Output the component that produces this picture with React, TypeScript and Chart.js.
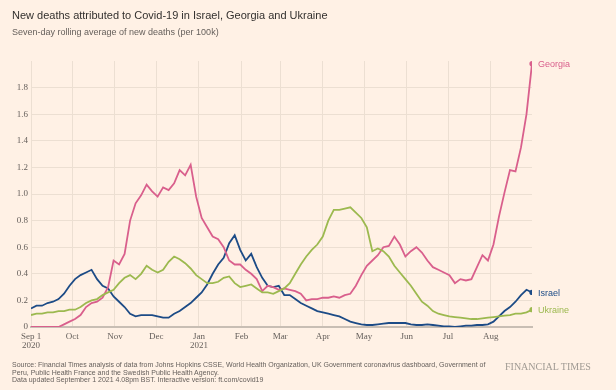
import React, { useEffect, useRef } from "react";
import { Chart, registerables } from "chart.js";

Chart.register(...registerables);

// Day offsets from Sep 1 2020 (every 4 days)
const days = [
  0, 4, 8, 12, 16, 20, 24, 28, 32, 36,
  40, 44, 48, 52, 56, 60, 64, 68, 72, 76,
  80, 84, 88, 92, 96, 100, 104, 108, 112, 116,
  120, 124, 128, 132, 136, 140, 144, 148, 152, 156,
  160, 164, 168, 172, 176, 180, 184, 188, 192, 196,
  200, 204, 208, 212, 216, 220, 224, 228, 232, 236,
  240, 244, 248, 252, 256, 260, 264, 268, 272, 276,
  280, 284, 288, 292, 296, 300, 304, 308, 312, 316,
  320, 324, 328, 332, 336, 340, 344, 348, 352, 356,
  360, 364,
];

const israel = [
  0.14, 0.16, 0.16, 0.18, 0.19, 0.21, 0.25, 0.31, 0.36, 0.39,
  0.41, 0.43, 0.36, 0.31, 0.29, 0.23, 0.19, 0.15, 0.10, 0.08,
  0.09, 0.09, 0.09, 0.08, 0.07, 0.07, 0.10, 0.12, 0.15, 0.18,
  0.22, 0.26, 0.32, 0.40, 0.47, 0.52, 0.63, 0.69, 0.58, 0.50,
  0.55, 0.45, 0.37, 0.31, 0.30, 0.31, 0.24, 0.24, 0.21, 0.18,
  0.16, 0.14, 0.12, 0.11, 0.10, 0.09, 0.08, 0.06, 0.04, 0.03,
  0.02, 0.015, 0.015, 0.02, 0.025, 0.03, 0.03, 0.03, 0.03, 0.02,
  0.015, 0.015, 0.02, 0.015, 0.01, 0.005, 0.005, 0.0, 0.005, 0.01,
  0.01, 0.015, 0.015, 0.02, 0.04, 0.08, 0.12, 0.15, 0.19, 0.24,
  0.28, 0.26,
];

const ukraine = [
  0.09, 0.10, 0.10, 0.11, 0.11, 0.12, 0.12, 0.13, 0.13, 0.15,
  0.18, 0.20, 0.21, 0.24, 0.26, 0.28, 0.33, 0.37, 0.39, 0.36,
  0.40, 0.46, 0.43, 0.41, 0.43, 0.49, 0.53, 0.51, 0.48, 0.44,
  0.39, 0.36, 0.33, 0.33, 0.34, 0.37, 0.38, 0.33, 0.30, 0.31,
  0.32, 0.29, 0.26, 0.26, 0.25, 0.27, 0.29, 0.33, 0.40, 0.47,
  0.53, 0.58, 0.62, 0.68, 0.80, 0.88, 0.88, 0.89, 0.90, 0.86,
  0.82, 0.75, 0.57, 0.59, 0.57, 0.53, 0.46, 0.41, 0.36, 0.31,
  0.25, 0.19, 0.16, 0.12, 0.10, 0.09, 0.08, 0.075, 0.07, 0.065,
  0.06, 0.06, 0.065, 0.07, 0.075, 0.08, 0.085, 0.09, 0.10, 0.10,
  0.11, 0.13,
];

const georgia = [
  0, 0, 0, 0, 0, 0, 0.02, 0.04, 0.06, 0.09,
  0.15, 0.18, 0.19, 0.22, 0.30, 0.50, 0.47, 0.55, 0.80, 0.93,
  0.99, 1.07, 1.02, 0.98, 1.05, 1.03, 1.08, 1.18, 1.14, 1.22,
  0.98, 0.82, 0.75, 0.68, 0.66, 0.60, 0.50, 0.47, 0.47, 0.43,
  0.40, 0.36, 0.27, 0.31, 0.30, 0.28, 0.29, 0.28, 0.27, 0.25,
  0.20, 0.21, 0.21, 0.22, 0.22, 0.23, 0.22, 0.24, 0.25, 0.31,
  0.39, 0.46, 0.50, 0.54, 0.60, 0.61, 0.68, 0.62, 0.53, 0.57,
  0.60, 0.56, 0.50, 0.45, 0.43, 0.41, 0.39, 0.33, 0.36, 0.35,
  0.36, 0.45, 0.54, 0.50, 0.62, 0.83, 1.01, 1.18, 1.17, 1.35,
  1.60, 1.98,
];

const monthTickDays = [0, 30, 61, 91, 122, 153, 181, 212, 242, 273, 303, 334];
const monthTickLabels: (string | string[])[] = [
  ["Sep 1", "2020"], "Oct", "Nov", "Dec", ["Jan", "2021"], "Feb", "Mar", "Apr", "May", "Jun", "Jul", "Aug",
];

const seriesNames = ["Ukraine", "Georgia", "Israel"];
const seriesColors = ["#9cb94f", "#d95f8c", "#1c4b86"];

const BG = "#fff1e5";

const endLabels = {
  id: "endLabels",
  afterDatasetsDraw(chart: any) {
    const ctx = chart.ctx;
    ctx.save();
    ctx.font = "9px 'Liberation Sans', Arial, sans-serif";
    ctx.textBaseline = "middle";
    ctx.textAlign = "left";
    chart.data.datasets.forEach((ds: any, i: number) => {
      const meta = chart.getDatasetMeta(i);
      const pt = meta.data[meta.data.length - 1];
      if (!pt) return;
      ctx.fillStyle = ds.borderColor;
      ctx.fillText(ds.label, pt.x + 6, pt.y + 1);
    });
    ctx.restore();
  },
};

export default function App() {
  const ref = useRef<HTMLCanvasElement | null>(null);

  useEffect(() => {
    document.body.style.margin = "0";
    document.body.style.background = BG;
    const canvas = ref.current;
    if (!canvas) return;
    const seriesData = [ukraine, georgia, israel];
    const chart = new Chart(canvas, {
      type: "line",
      data: {
        datasets: seriesNames.map((name, i) => ({
          label: name,
          data: days.map((d, j) => ({ x: d, y: seriesData[i][j] })),
          borderColor: seriesColors[i],
          backgroundColor: seriesColors[i],
          borderWidth: 1.8,
          tension: 0,
          pointRadius: (c: any) => (c.dataIndex === days.length - 1 ? 2.6 : 0),
          pointHoverRadius: 0,
          pointBorderWidth: 0,
        })),
      },
      options: {
        responsive: false,
        animation: false,
        events: [],
        layout: { padding: { top: 61, right: 84, bottom: 0, left: 0 } },
        plugins: {
          legend: { display: false },
          tooltip: { enabled: false },
          title: { display: false },
        },
        scales: {
          x: {
            type: "linear",
            min: 0,
            max: 364,
            afterFit: (s: any) => {
              s.height = 63;
            },
            afterBuildTicks: (s: any) => {
              s.ticks = monthTickDays.map((v) => ({ value: v }));
            },
            ticks: {
              autoSkip: false,
              maxRotation: 0,
              padding: 5,
              color: "#66605c",
              font: { family: "'Liberation Serif', Georgia, serif", size: 9, lineHeight: 1.0 },
              callback: (v: any) => {
                const idx = monthTickDays.indexOf(Number(v));
                return idx >= 0 ? monthTickLabels[idx] : "";
              },
            },
            grid: { color: "#ecdfd2", lineWidth: 1, drawTicks: false },
            border: { display: true, color: "#c8beb4", width: 2 },
          },
          y: {
            min: 0,
            max: 2.0,
            afterFit: (s: any) => {
              s.width = 31;
            },
            ticks: {
              stepSize: 0.2,
              padding: 3,
              color: "#66605c",
              font: { family: "'Liberation Serif', Georgia, serif", size: 9 },
              callback: (v: any) => {
                const n = Number(v);
                if (n === 0) return "0";
                if (n > 1.95) return "";
                return n.toFixed(1);
              },
            },
            grid: {
              drawTicks: false,
              lineWidth: 1,
              color: (c: any) => (c.tick && c.tick.value > 1.95 ? "rgba(0,0,0,0)" : "#ecdfd2"),
            },
            border: { display: false },
          },
        },
      },
      plugins: [endLabels],
    } as any);
    return () => chart.destroy();
  }, []);

  const sans = "'Liberation Sans', Arial, sans-serif";
  return (
    <div style={{ position: "fixed", left: 0, top: 0, width: 616, height: 390, background: BG, overflow: "hidden" }}>
      <canvas ref={ref} width={616} height={390} style={{ position: "absolute", left: 0, top: 0, width: 616, height: 390 }} />
      <div style={{ position: "absolute", left: 12, top: 8, font: `11px ${sans}`, lineHeight: "14px", color: "#33302e", whiteSpace: "nowrap" }}>
        New deaths attributed to Covid-19 in Israel, Georgia and Ukraine
      </div>
      <div style={{ position: "absolute", left: 12, top: 27, font: `9px ${sans}`, lineHeight: "11px", color: "#66605c", whiteSpace: "nowrap" }}>
        Seven-day rolling average of new deaths (per 100k)
      </div>
      <div style={{ position: "absolute", left: 12, top: 361, font: `7px ${sans}`, lineHeight: "7.5px", color: "#66605c", whiteSpace: "nowrap" }}>
        Source: Financial Times analysis of data from Johns Hopkins CSSE, World Health Organization, UK Government coronavirus dashboard, Government of
        <br />
        Peru, Public Health France and the Swedish Public Health Agency.
        <br />
        Data updated September 1 2021 4.08pm BST. Interactive version: ft.com/covid19
      </div>
      <div style={{ position: "absolute", left: 505, top: 361, font: "10px 'Liberation Serif', Georgia, serif", lineHeight: "12px", color: "#a09a93", whiteSpace: "nowrap" }}>
        FINANCIAL TIMES
      </div>
    </div>
  );
}
